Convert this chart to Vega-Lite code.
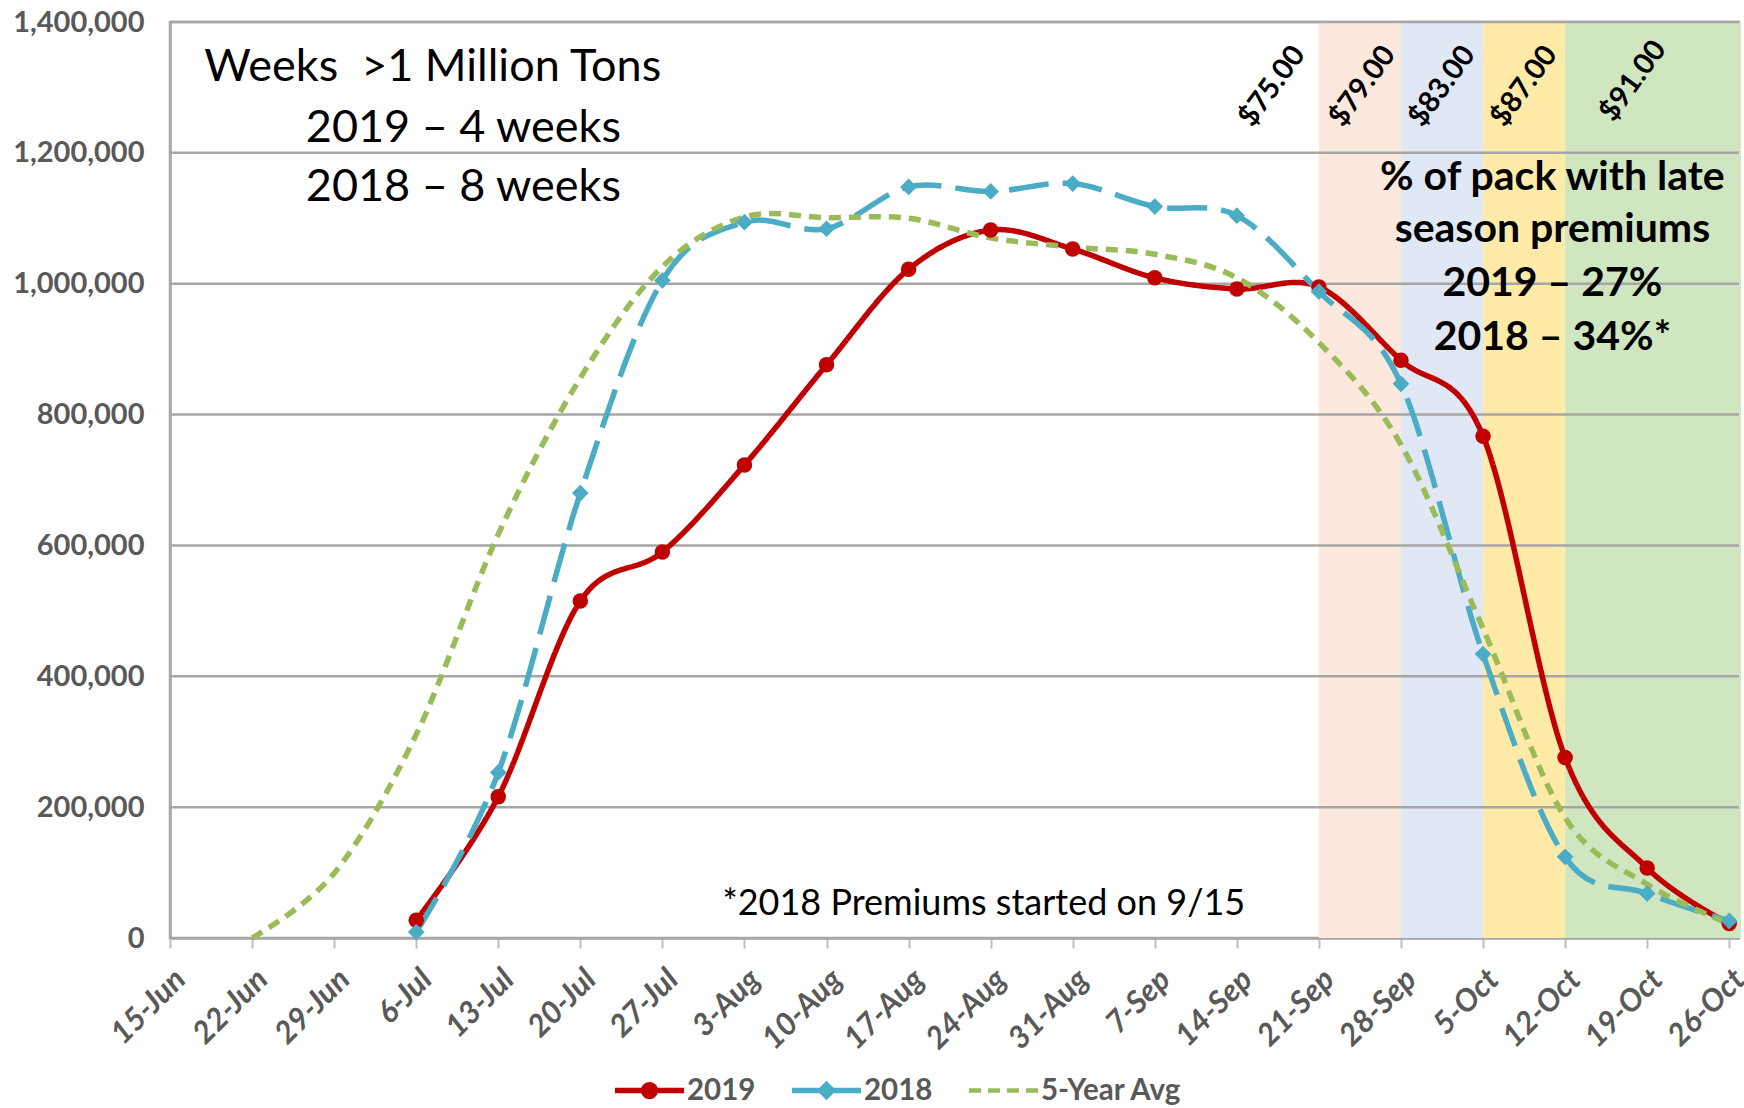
{
  "$schema": "https://vega.github.io/schema/vega-lite/v6.json",
  "width": 1569,
  "height": 916,
  "autosize": {"type": "none"},
  "padding": {"left": 170, "top": 22, "right": 5, "bottom": 170},
  "background": "white",
  "config": {
    "view": {"stroke": "#A6A6A6", "strokeWidth": 2.5},
    "font": "Lato"
  },
  "datasets": {
    "prod": [
      {"date": "2019-07-06", "series": "2019", "tons": 27000},
      {"date": "2019-07-13", "series": "2019", "tons": 216000},
      {"date": "2019-07-20", "series": "2019", "tons": 515000},
      {"date": "2019-07-27", "series": "2019", "tons": 590000},
      {"date": "2019-08-03", "series": "2019", "tons": 723000},
      {"date": "2019-08-10", "series": "2019", "tons": 876000},
      {"date": "2019-08-17", "series": "2019", "tons": 1022000},
      {"date": "2019-08-24", "series": "2019", "tons": 1082000},
      {"date": "2019-08-31", "series": "2019", "tons": 1053000},
      {"date": "2019-09-07", "series": "2019", "tons": 1009000},
      {"date": "2019-09-14", "series": "2019", "tons": 992000},
      {"date": "2019-09-21", "series": "2019", "tons": 995000},
      {"date": "2019-09-28", "series": "2019", "tons": 883000},
      {"date": "2019-10-05", "series": "2019", "tons": 767000},
      {"date": "2019-10-12", "series": "2019", "tons": 276000},
      {"date": "2019-10-19", "series": "2019", "tons": 107000},
      {"date": "2019-10-26", "series": "2019", "tons": 22000},
      {"date": "2019-07-06", "series": "2018", "tons": 9000},
      {"date": "2019-07-13", "series": "2018", "tons": 253000},
      {"date": "2019-07-20", "series": "2018", "tons": 680000},
      {"date": "2019-07-27", "series": "2018", "tons": 1005000},
      {"date": "2019-08-03", "series": "2018", "tons": 1094000},
      {"date": "2019-08-10", "series": "2018", "tons": 1084000},
      {"date": "2019-08-17", "series": "2018", "tons": 1148000},
      {"date": "2019-08-24", "series": "2018", "tons": 1141000},
      {"date": "2019-08-31", "series": "2018", "tons": 1153000},
      {"date": "2019-09-07", "series": "2018", "tons": 1118000},
      {"date": "2019-09-14", "series": "2018", "tons": 1104000},
      {"date": "2019-09-21", "series": "2018", "tons": 988000},
      {"date": "2019-09-28", "series": "2018", "tons": 847000},
      {"date": "2019-10-05", "series": "2018", "tons": 434000},
      {"date": "2019-10-12", "series": "2018", "tons": 124000},
      {"date": "2019-10-19", "series": "2018", "tons": 68000},
      {"date": "2019-10-26", "series": "2018", "tons": 26000},
      {"date": "2019-06-22", "series": "5-Year Avg", "tons": 0},
      {"date": "2019-06-29", "series": "5-Year Avg", "tons": 99000},
      {"date": "2019-07-06", "series": "5-Year Avg", "tons": 311000},
      {"date": "2019-07-13", "series": "5-Year Avg", "tons": 617000},
      {"date": "2019-07-20", "series": "5-Year Avg", "tons": 856000},
      {"date": "2019-07-27", "series": "5-Year Avg", "tons": 1026000},
      {"date": "2019-08-03", "series": "5-Year Avg", "tons": 1102000},
      {"date": "2019-08-10", "series": "5-Year Avg", "tons": 1101000},
      {"date": "2019-08-17", "series": "5-Year Avg", "tons": 1100000},
      {"date": "2019-08-24", "series": "5-Year Avg", "tons": 1070000},
      {"date": "2019-08-31", "series": "5-Year Avg", "tons": 1056000},
      {"date": "2019-09-07", "series": "5-Year Avg", "tons": 1045000},
      {"date": "2019-09-14", "series": "5-Year Avg", "tons": 1009000},
      {"date": "2019-09-21", "series": "5-Year Avg", "tons": 910000},
      {"date": "2019-09-28", "series": "5-Year Avg", "tons": 754000},
      {"date": "2019-10-05", "series": "5-Year Avg", "tons": 473000},
      {"date": "2019-10-12", "series": "5-Year Avg", "tons": 184000},
      {"date": "2019-10-19", "series": "5-Year Avg", "tons": 82000},
      {"date": "2019-10-26", "series": "5-Year Avg", "tons": 22000}
    ],
    "bands": [
      {"start": "2019-09-21", "end": "2019-09-28", "price": "$79.00"},
      {"start": "2019-09-28", "end": "2019-10-05", "price": "$83.00"},
      {"start": "2019-10-05", "end": "2019-10-12", "price": "$87.00"},
      {"start": "2019-10-12", "end": "2019-10-27", "price": "$91.00"}
    ],
    "grid": [
      {"v": 200000}, {"v": 400000}, {"v": 600000}, {"v": 800000},
      {"v": 1000000}, {"v": 1200000}, {"v": 1400000}
    ],
    "prices": [
      {"date": "2019-09-17T00:00:00Z", "tons": 1302000, "label": "$75.00"},
      {"date": "2019-09-24T17:00:00Z", "tons": 1302000, "label": "$79.00"},
      {"date": "2019-10-01T12:00:00Z", "tons": 1302000, "label": "$83.00"},
      {"date": "2019-10-08T12:00:00Z", "tons": 1302000, "label": "$87.00"},
      {"date": "2019-10-17T19:00:00Z", "tons": 1310000, "label": "$91.00"}
    ],
    "leftNotes": [
      {"date": "2019-06-17T22:00:00Z", "tons": 1331000, "label": "Weeks\u00a0 >1 Million Tons"},
      {"date": "2019-06-26T14:00:00Z", "tons": 1238000, "label": "2019 – 4 weeks"},
      {"date": "2019-06-26T14:00:00Z", "tons": 1148000, "label": "2018 – 8 weeks"}
    ],
    "rightNotes": [
      {"date": "2019-10-10T22:00:00Z", "tons": 1162000, "label": "% of pack with late"},
      {"date": "2019-10-10T22:00:00Z", "tons": 1082000, "label": "season premiums"},
      {"date": "2019-10-10T22:00:00Z", "tons": 1000000, "label": "2019 – 27%"},
      {"date": "2019-10-10T22:00:00Z", "tons": 917000, "label": "2018 – 34%*"}
    ],
    "footNote": [
      {"date": "2019-08-23T10:00:00Z", "tons": 52000, "label": "*2018 Premiums started on 9/15"}
    ]
  },
  "encoding": {
    "x": {
      "field": "date",
      "type": "temporal",
      "scale": {
        "type": "utc",
        "domain": [
          {"year": 2019, "month": 6, "date": 15, "utc": true},
          {"year": 2019, "month": 10, "date": 26, "hours": 20, "utc": true}
        ]
      },
      "axis": {
        "title": null,
        "labelExpr": "utcFormat(datum.value, '%-d-%b')",
        "values": [
          {"year": 2019, "month": 6, "date": 15, "utc": true},
          {"year": 2019, "month": 6, "date": 22, "utc": true},
          {"year": 2019, "month": 6, "date": 29, "utc": true},
          {"year": 2019, "month": 7, "date": 6, "utc": true},
          {"year": 2019, "month": 7, "date": 13, "utc": true},
          {"year": 2019, "month": 7, "date": 20, "utc": true},
          {"year": 2019, "month": 7, "date": 27, "utc": true},
          {"year": 2019, "month": 8, "date": 3, "utc": true},
          {"year": 2019, "month": 8, "date": 10, "utc": true},
          {"year": 2019, "month": 8, "date": 17, "utc": true},
          {"year": 2019, "month": 8, "date": 24, "utc": true},
          {"year": 2019, "month": 8, "date": 31, "utc": true},
          {"year": 2019, "month": 9, "date": 7, "utc": true},
          {"year": 2019, "month": 9, "date": 14, "utc": true},
          {"year": 2019, "month": 9, "date": 21, "utc": true},
          {"year": 2019, "month": 9, "date": 28, "utc": true},
          {"year": 2019, "month": 10, "date": 5, "utc": true},
          {"year": 2019, "month": 10, "date": 12, "utc": true},
          {"year": 2019, "month": 10, "date": 19, "utc": true},
          {"year": 2019, "month": 10, "date": 26, "utc": true}
        ],
        "labelAngle": -45,
        "labelFont": "Lato",
        "labelFontSize": 31,
        "labelFontWeight": "bold",
        "labelFontStyle": "italic",
        "labelColor": "#595959",
        "labelPadding": 16,
        "labelOverlap": false,
        "labelFlush": false,
        "labelBound": false,
        "domainColor": "#A6A6A6",
        "domainWidth": 2.5,
        "tickColor": "#BFBFBF",
        "tickWidth": 2,
        "tickSize": 10,
        "grid": false
      }
    },
    "y": {
      "field": "tons",
      "type": "quantitative",
      "scale": {"domain": [0, 1400000], "nice": false, "zero": true},
      "axis": {
        "title": null,
        "values": [0, 200000, 400000, 600000, 800000, 1000000, 1200000, 1400000],
        "format": ",d",
        "labelFont": "Lato",
        "labelFontSize": 29,
        "labelFontWeight": "bold",
        "labelColor": "#595959",
        "labelPadding": 26,
        "ticks": false,
        "grid": false,
        "domainColor": "#A6A6A6",
        "domainWidth": 2.5,
        "labelFlush": false
      }
    }
  },
  "layer": [
    {
      "data": {"name": "bands"},
      "mark": {"type": "rect"},
      "encoding": {
        "x": {"field": "start", "type": "temporal"},
        "x2": {"field": "end"},
        "y": null,
        "fill": {
          "field": "price",
          "type": "nominal",
          "scale": {
            "domain": ["$79.00", "$83.00", "$87.00", "$91.00"],
            "range": ["#FCE8DC", "#E1E8F5", "#FFEAA8", "#CFE6C0"]
          },
          "legend": null
        }
      }
    },
    {
      "data": {"name": "grid"},
      "mark": {"type": "rule", "color": "#A6A6A6", "strokeWidth": 2.5},
      "encoding": {
        "x": null,
        "y": {"field": "v", "type": "quantitative"}
      }
    },
    {
      "data": {"name": "prod"},
      "mark": {"type": "point", "filled": true, "size": 4761, "opacity": 0},
      "encoding": {
        "color": {
          "field": "series",
          "type": "nominal",
          "scale": {
            "domain": ["2019", "2018", "5-Year Avg"],
            "range": ["#C00000", "#4BACC6", "#9BBB59"]
          },
          "legend": {
            "title": null,
            "orient": "none",
            "legendX": 445,
            "legendY": 1034,
            "direction": "horizontal",
            "symbolSize": 4761,
            "symbolStrokeWidth": 0,
            "symbolOpacity": 1,
            "labelFont": "Lato",
            "labelFontSize": 29.5,
            "labelFontWeight": "bold",
            "labelColor": "#595959",
            "labelOffset": 3,
            "columnPadding": 36
          }
        },
        "shape": {
          "field": "series",
          "type": "nominal",
          "scale": {
            "domain": ["2019", "2018", "5-Year Avg"],
            "range": [
              "M-1,-0.08H1V0.08H-1Z M0.25,0 A0.25,0.25 0 1,1 -0.25,0 A0.25,0.25 0 1,1 0.25,0 Z",
              "M-1,-0.08H1V0.08H-1Z M0,-0.28 L0.28,0 L0,0.28 L-0.28,0 Z",
              "M-1,-0.065H-0.65V0.065H-1Z M-0.45,-0.065H-0.1V0.065H-0.45Z M0.1,-0.065H0.45V0.065H0.1Z M0.65,-0.065H1V0.065H0.65Z"
            ]
          },
          "legend": {
            "title": null,
            "orient": "none",
            "legendX": 445,
            "legendY": 1034,
            "direction": "horizontal",
            "symbolSize": 4761,
            "symbolStrokeWidth": 0,
            "symbolOpacity": 1,
            "labelFont": "Lato",
            "labelFontSize": 29.5,
            "labelFontWeight": "bold",
            "labelColor": "#595959",
            "labelOffset": 3,
            "columnPadding": 36
          }
        }
      }
    },
    {
      "data": {"name": "prod"},
      "mark": {"type": "line", "interpolate": "cardinal", "strokeWidth": 5.5},
      "encoding": {
        "stroke": {
          "field": "series",
          "type": "nominal",
          "scale": {
            "domain": ["2019", "2018", "5-Year Avg"],
            "range": ["#C00000", "#4BACC6", "#9BBB59"]
          },
          "legend": null
        },
        "strokeDash": {
          "field": "series",
          "type": "nominal",
          "scale": {
            "domain": ["2019", "2018", "5-Year Avg"],
            "range": [[1, 0], [40, 14], [12, 8]]
          },
          "legend": null
        }
      }
    },
    {
      "data": {"name": "prod"},
      "transform": [{"filter": "datum.series === '2019'"}],
      "mark": {"type": "point", "shape": "circle", "filled": true, "size": 240, "color": "#C00000", "opacity": 1}
    },
    {
      "data": {"name": "prod"},
      "transform": [{"filter": "datum.series === '2018'"}],
      "mark": {"type": "point", "shape": "diamond", "filled": true, "size": 280, "color": "#4BACC6", "opacity": 1}
    },
    {
      "data": {"name": "leftNotes"},
      "mark": {"type": "text", "align": "left", "baseline": "middle", "font": "Lato", "fontSize": 45, "color": "#000000"},
      "encoding": {"text": {"field": "label"}}
    },
    {
      "data": {"name": "rightNotes"},
      "mark": {"type": "text", "align": "center", "baseline": "middle", "font": "Lato", "fontSize": 41, "fontWeight": "bold", "color": "#000000"},
      "encoding": {"text": {"field": "label"}}
    },
    {
      "data": {"name": "footNote"},
      "mark": {"type": "text", "align": "center", "baseline": "middle", "font": "Lato", "fontSize": 36, "color": "#000000"},
      "encoding": {"text": {"field": "label"}}
    },
    {
      "data": {"name": "prices"},
      "mark": {"type": "text", "align": "center", "baseline": "middle", "font": "Lato", "fontSize": 29, "fontWeight": "bold", "angle": -54, "color": "#000000"},
      "encoding": {"text": {"field": "label"}}
    }
  ]
}
